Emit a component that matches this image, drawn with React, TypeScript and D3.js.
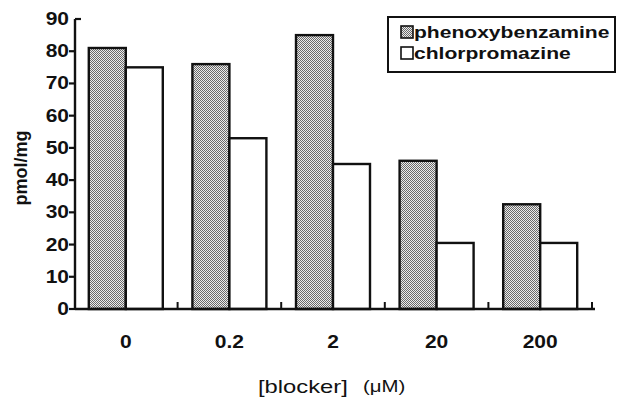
import React from 'react';
import * as d3 from 'd3';

const categories = ['0', '0.2', '2', '20', '200'];
const seriesNames = ['phenoxybenzamine', 'chlorpromazine'];
const phenoxybenzamine = [81, 76, 85, 46, 32.5];
const chlorpromazine = [75, 53, 45, 20.5, 20.5];
const yTicks = [0, 10, 20, 30, 40, 50, 60, 70, 80, 90];

const FONT = '"Liberation Sans", Arial, sans-serif';

// the scanned figure is stretched sideways, so text gets a horizontal scale
function Txt({ x, y, children, anchor = 'start', size = 17, bold = true, sx = 1.2 }: any) {
  return (
    <text
      transform={`translate(${x},${y}) scale(${sx},1)`}
      textAnchor={anchor}
      fontSize={size}
      fontWeight={bold ? 'bold' : 'normal'}
      fontFamily={FONT}
      fill="#111"
    >
      {children}
    </text>
  );
}

export default function App() {
  const width = 619;
  const height = 398;
  const axisX = 75;
  const axisY = 309;

  const x0 = d3.scaleBand().domain(categories).range([74, 592]);
  const x1 = d3.scaleBand().domain(seriesNames).range([0, x0.bandwidth()]).paddingOuter(0.4).paddingInner(0);
  const y = d3.scaleLinear().domain([0, 90]).range([axisY, 19]);

  const values = [phenoxybenzamine, chlorpromazine];
  const fills = ['url(#stipple)', '#fff'];

  return (
    <svg width={width} height={height} style={{ position: 'absolute', left: 0, top: 0, background: '#fff' }}>
      <defs>
        <pattern id="stipple" width={2} height={2} patternUnits="userSpaceOnUse">
          <rect width={2} height={2} fill="#ececec" />
          <rect x={0} y={0} width={1} height={1} fill="#6a6a6a" />
          <rect x={1} y={1} width={1} height={1} fill="#6a6a6a" />
        </pattern>
      </defs>

      {/* bars */}
      {seriesNames.map((s, si) => (
        <g key={s}>
          {categories.map((c, ci) => (
            <rect
              key={c}
              x={(x0(c) as number) + (x1(s) as number)}
              y={y(values[si][ci])}
              width={x1.bandwidth()}
              height={axisY - y(values[si][ci])}
              fill={fills[si]}
              stroke="#111"
              strokeWidth={2.4}
            />
          ))}
        </g>
      ))}

      {/* Y axis */}
      <line x1={axisX} x2={axisX} y1={y(90)} y2={axisY} stroke="#111" strokeWidth={2.4} />
      {yTicks.map(t => (
        <g key={t}>
          {t === 90 ? (
            <line x1={axisX} x2={axisX + 6} y1={y(t)} y2={y(t)} stroke="#111" strokeWidth={2.2} />
          ) : (
            <line x1={axisX - 6} x2={axisX} y1={y(t)} y2={y(t)} stroke="#111" strokeWidth={2.2} />
          )}
          <Txt x={69} y={y(t) + 6} anchor="end" size={17.5}>{t}</Txt>
        </g>
      ))}
      <text
        transform={`translate(27,${168}) rotate(-90)`}
        textAnchor="middle"
        fontSize={18}
        fontWeight="bold"
        fontFamily={FONT}
        fill="#111"
      >
        pmol/mg
      </text>

      {/* X axis */}
      <line x1={axisX} x2={595} y1={axisY} y2={axisY} stroke="#111" strokeWidth={2.4} />
      {categories.map(c => (
        <g key={c}>
          <line
            x1={(x0(c) as number) + x0.bandwidth()}
            x2={(x0(c) as number) + x0.bandwidth()}
            y1={axisY}
            y2={axisY - 7}
            stroke="#111"
            strokeWidth={2}
          />
          <Txt x={(x0(c) as number) + x0.bandwidth() / 2} y={348} anchor="middle" size={17.5}>{c}</Txt>
        </g>
      ))}
      <Txt x={258} y={393} size={19} bold={false} sx={1.25}>[blocker]</Txt>
      <Txt x={363} y={392} size={17} bold={false}>(μM)</Txt>

      {/* legend */}
      <rect x={388} y={17} width={227} height={55} fill="#fff" stroke="#111" strokeWidth={2} />
      {seriesNames.map((s, i) => (
        <g key={s}>
          <rect x={401} y={26 + i * 21} width={12} height={12} fill={fills[i]} stroke="#111" strokeWidth={1.6} />
          <Txt x={414} y={38 + i * 21} sx={1.24}>{s}</Txt>
        </g>
      ))}
    </svg>
  );
}
